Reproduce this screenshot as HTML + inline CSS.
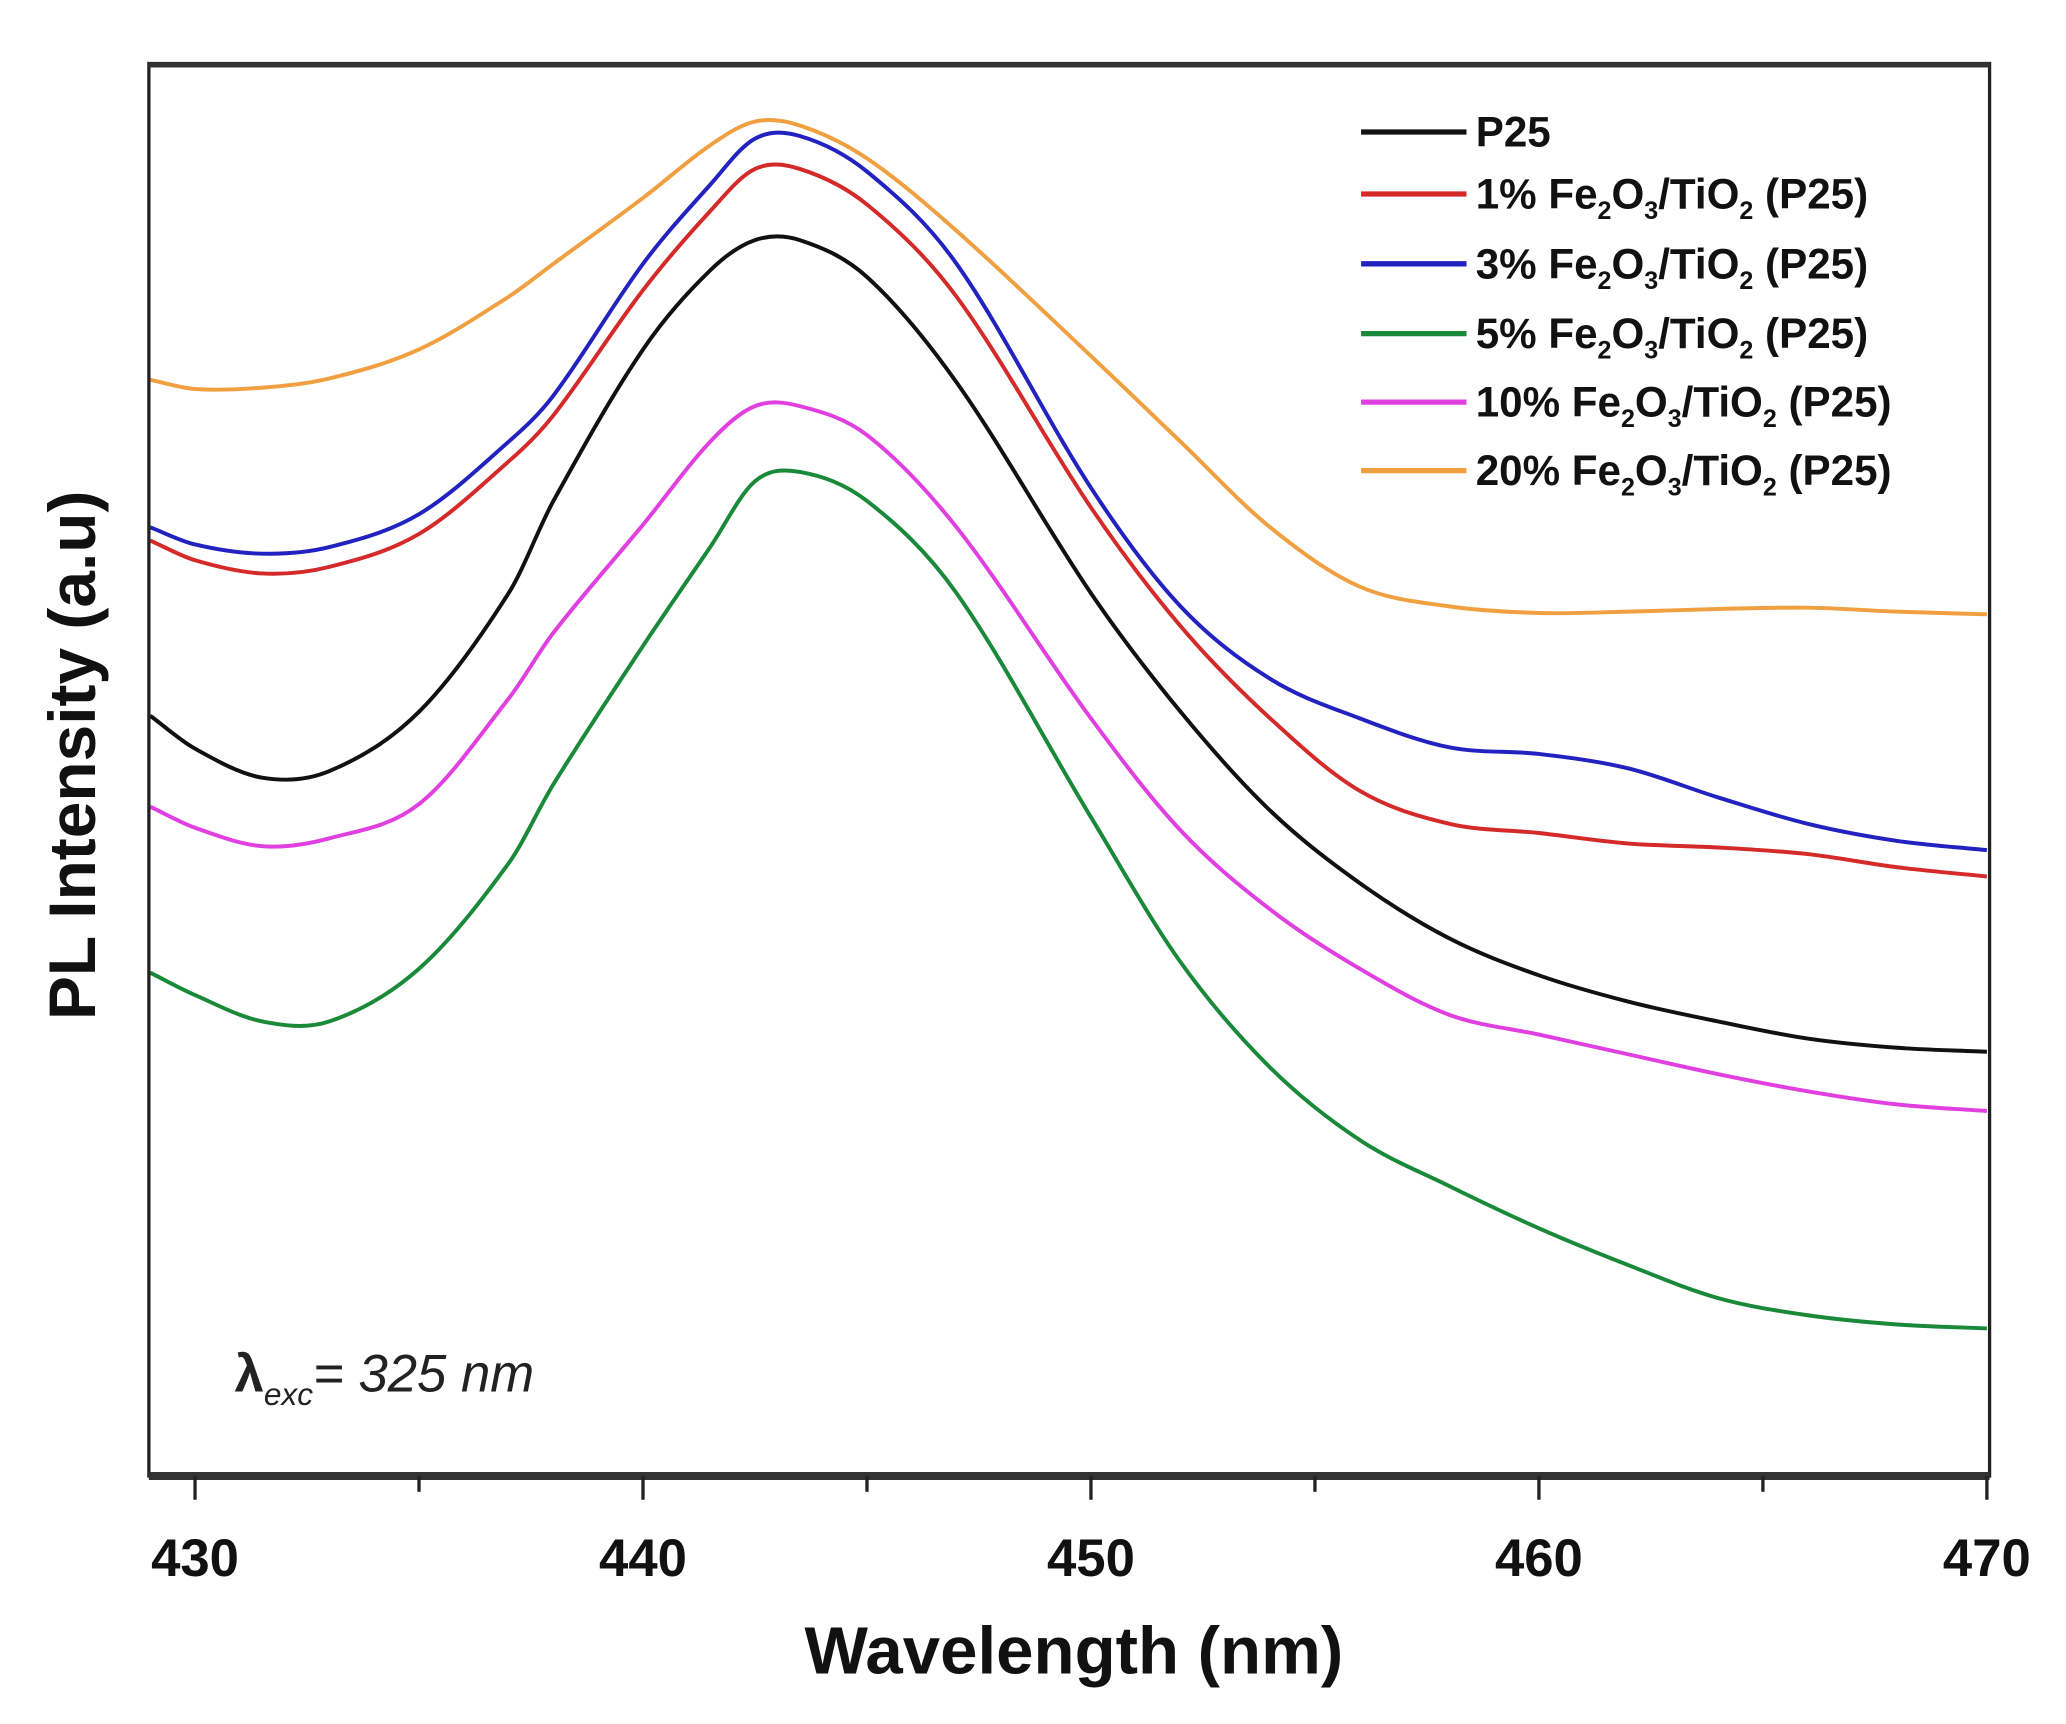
<!DOCTYPE html>
<html><head><meta charset="utf-8">
<style>
html,body{margin:0;padding:0;background:#fff;}
svg{display:block;font-family:"Liberation Sans",Arial,sans-serif;}
</style></head>
<body>
<svg id="chart" width="2066" height="1724" viewBox="0 0 1568 1308" xmlns="http://www.w3.org/2000/svg">
<g id="curves"></g>
<rect x="113" y="48" width="1397" height="1072" fill="none" stroke="#222" stroke-width="2.5"/>
<line x1="113" y1="1120" x2="1510" y2="1120" stroke="#333" stroke-width="6"/>
<line x1="113" y1="49" x2="1510" y2="49" stroke="#333" stroke-width="4"/>
<g id="ticks"></g>
<text x="815" y="1270" font-size="51" font-weight="bold" text-anchor="middle" fill="#111">Wavelength (nm)</text>
<text transform="translate(72,573) rotate(-90)" font-size="50" font-weight="bold" text-anchor="middle" fill="#111">PL Intensity (a.u)</text>
<text x="178" y="1056" font-size="40" font-style="italic" fill="#222"><tspan font-style="normal" font-weight="bold">λ</tspan><tspan font-size="24" dy="10">exc</tspan><tspan dy="-10">= 325 nm</tspan></text>
<g id="legend"></g>
</svg>
<script>
const wl = [429,430,431.5,433,435,437,438,440,441.5,442.5,443.5,445,447,450,452,454,456,458,460,462,464,466,468,470];
const seriesNames = ["P25","1%","3%","5%","10%","20%"];
const seriesColors = ["#111111","#d42a2a","#2222c0","#1a8a3a","#e040e0","#f0a040"];
// intensities (arbitrary units) sampled at wl
const sP25 = [577,552,530,535,580,670,740,855,915,938,938,910,830,670,580,505,450,408,380,360,345,332,325,322];
const s1 = [710,695,685,690,715,770,805,900,960,992,992,965,895,735,645,575,520,495,488,480,477,472,462,455];
const s3 = [720,707,700,705,730,785,820,920,980,1015,1017,990,920,750,660,605,575,553,548,537,515,495,482,475];
const s5 = [382,365,345,345,385,465,525,630,705,755,762,740,670,500,390,310,255,220,188,160,135,122,115,112];
const s10 = [508,492,478,484,510,590,640,722,785,812,812,790,720,575,490,430,385,350,335,320,305,292,282,277];
const s20 = [832,825,826,833,855,895,920,970,1010,1028,1025,1000,945,850,785,720,675,660,655,656,658,659,656,654];
const allSeries = [sP25,s1,s3,s5,s10,s20];
const xTicks = [430,440,450,460,470];
const xMinor = [435,445,455,465];

const X0=113,X1=1510,Y0=1120,Y1=48, XMIN=428.97, XMAX=470.06, YMIN=0, YMAX=1072;
function xScale(v){return X0+(v-XMIN)/(XMAX-XMIN)*(X1-X0);}
function yScale(v){return Y0-(v-YMIN)/(YMAX-YMIN)*(Y0-Y1);}
const NS="http://www.w3.org/2000/svg";
function pathFor(vals){
  const p=wl.map((w,i)=>[xScale(w),yScale(vals[i])]);
  const n=p.length;
  const m=p.map((q,i)=>{
    const a=p[Math.max(0,i-1)],b=p[Math.min(n-1,i+1)];
    return (b[1]-a[1])/(b[0]-a[0]);
  });
  let d=`M${p[0][0]},${p[0][1]}`;
  for(let i=0;i<n-1;i++){
    const dx=p[i+1][0]-p[i][0];
    d+=` C${p[i][0]+dx/3},${p[i][1]+m[i]*dx/3} ${p[i+1][0]-dx/3},${p[i+1][1]-m[i+1]*dx/3} ${p[i+1][0]},${p[i+1][1]}`;
  }
  return d;
}
const g=document.getElementById('curves');
allSeries.forEach((vals,i)=>{
  const path=document.createElementNS(NS,'path');
  path.setAttribute('d',pathFor(vals));
  path.setAttribute('fill','none');
  path.setAttribute('stroke',seriesColors[i]);
  path.setAttribute('stroke-width','3');
  
  
  g.appendChild(path);
});
const tg=document.getElementById('ticks');
xTicks.forEach(t=>{
  const l=document.createElementNS(NS,'line');
  l.setAttribute('x1',xScale(t));l.setAttribute('x2',xScale(t));
  l.setAttribute('y1',1120);l.setAttribute('y2',1138);
  l.setAttribute('stroke','#222');l.setAttribute('stroke-width','2.5');
  
  
  tg.appendChild(l);
  const tx=document.createElementNS(NS,'text');
  tx.setAttribute('x',xScale(t));tx.setAttribute('y',1196);
  tx.setAttribute('font-size','40');tx.setAttribute('font-weight','bold');
  tx.setAttribute('text-anchor','middle');tx.setAttribute('fill','#111');
  tx.textContent=t;
  
  
  tg.appendChild(tx);
});
xMinor.forEach(t=>{
  const l=document.createElementNS(NS,'line');
  l.setAttribute('x1',xScale(t));l.setAttribute('x2',xScale(t));
  l.setAttribute('y1',1120);l.setAttribute('y2',1132);
  l.setAttribute('stroke','#222');l.setAttribute('stroke-width','2.5');
  
  
  tg.appendChild(l);
});
const lg=document.getElementById('legend');
const legendRows=[100,147,200,253,305,357];
seriesNames.forEach((n,i)=>{
  const y=legendRows[i];
  const l=document.createElementNS(NS,'line');
  l.setAttribute('x1',1033);l.setAttribute('x2',1113);l.setAttribute('y1',y);l.setAttribute('y2',y);
  l.setAttribute('stroke',seriesColors[i]);l.setAttribute('stroke-width','4');
  
  
  lg.appendChild(l);
  const tx=document.createElementNS(NS,'text');
  tx.setAttribute('x',1120);tx.setAttribute('y',y+11);
  tx.setAttribute('font-size','32');tx.setAttribute('font-weight','bold');tx.setAttribute('fill','#111');
  if(i===0){tx.textContent='P25';}
  else{tx.innerHTML=n+' Fe<tspan font-size="19" dy="8">2</tspan><tspan dy="-8">O</tspan><tspan font-size="19" dy="8">3</tspan><tspan dy="-8">/TiO</tspan><tspan font-size="19" dy="8">2</tspan><tspan dy="-8"> (P25)</tspan>';}
  
  
  lg.appendChild(tx);
});
</script>
</body></html>
